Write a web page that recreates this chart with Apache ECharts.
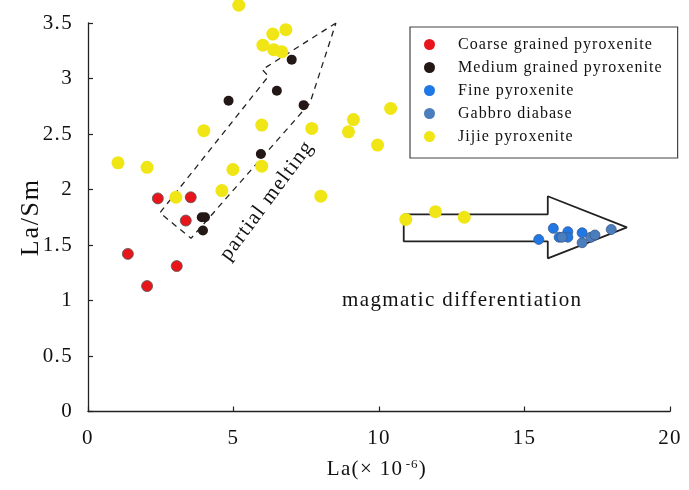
<!DOCTYPE html>
<html>
<head>
<meta charset="utf-8">
<script src="https://cdn.jsdelivr.net/npm/echarts@6/dist/echarts.min.js"></script>
<style>
html,body{margin:0;padding:0;background:#fff}
#c{width:689px;height:490px}
</style>
</head>
<body>
<div id="c"></div>
<script>
// ---- data ----
const coarse = [[2.40,1.92],[3.53,1.93],[3.36,1.72],[1.37,1.42],[3.05,1.31],[2.03,1.13]];
const medium = [[7.00,3.17],[6.49,2.89],[4.83,2.80],[7.41,2.76],[5.94,2.32],[3.91,1.75],[4.02,1.75],[3.95,1.63]];
const fine = [[15.99,1.65],[16.49,1.62],[16.98,1.61],[15.49,1.55],[16.19,1.57],[16.49,1.57]];
const gabbro = [[16.29,1.57],[16.98,1.52],[17.28,1.57],[17.42,1.59],[17.98,1.64]];
const jijie = [[5.18,3.66],[6.35,3.40],[6.80,3.44],[6.01,3.30],[6.38,3.26],[6.66,3.24],[3.98,2.53],[5.97,2.58],[7.69,2.55],
  [1.03,2.24],[2.03,2.20],[4.98,2.18],[5.97,2.21],[4.60,1.99],[3.02,1.93],[8.00,1.94],
  [10.40,2.73],[9.12,2.63],[8.95,2.52],[9.95,2.40],[10.92,1.73],[11.94,1.80],[12.93,1.75]];
const seriesNames = ['Coarse grained pyroxenite','Medium grained pyroxenite','Fine pyroxenite','Gabbro diabase','Jijie pyroxenite'];
const xTicks = [0,5,10,15,20];
const yTicks = [0,0.5,1,1.5,2,2.5,3,3.5];
// annotation outlines (data coords)
const meltArrow = [[8.52,3.50],[5.99,3.08],[6.20,3.02],[2.47,1.79],[3.54,1.56],[7.63,2.78],[8.52,3.50]];
const diffArrow = [[10.85,1.776],[15.80,1.776],[15.80,1.939],[18.52,1.659],[15.80,1.380],[15.80,1.533],[10.85,1.533],[10.85,1.776]];
const meltLabel = {text:'partial melting', at:[6.15,1.9]};
const diffLabel = {text:'magmatic differentiation', at:[12.86,1.0]};

// wide tracking of the reference typeface
(function(){
  const P = CanvasRenderingContext2D.prototype;
  if (!('letterSpacing' in P)) return;
  const wrap = fn => function(t,x,y,m){
    const r = /([\d.]+)px/.exec(this.font);
    this.letterSpacing = r ? (parseFloat(r[1])*0.065).toFixed(2)+'px' : '0px';
    const out = m === undefined ? fn.call(this,t,x,y) : fn.call(this,t,x,y,m);
    this.letterSpacing = '0px';
    return out;
  };
  P.fillText = wrap(P.fillText);
  P.strokeText = wrap(P.strokeText);
})();

const serif = '"Liberation Serif","Times New Roman",serif';
const chart = echarts.init(document.getElementById('c'));
const colors = ['#e8161b','#231815','#1f78e6','#4c7dbd','#f0e616'];
function sc(name, data, color, size, border){
  return {name, type:'scatter', data, symbolSize:size, clip:false, z:5,
    itemStyle:{color, opacity:1, borderColor:border||'transparent', borderWidth:border?0.8:0}};
}
chart.setOption({
  animation:false,
  grid:{left:88, right:19, top:23, bottom:78.5},
  xAxis:{type:'value', min:xTicks[0], max:xTicks[xTicks.length-1], interval:5,
    axisLine:{show:true, lineStyle:{color:'#222', width:1.3}},
    axisTick:{show:true, inside:true, length:5, lineStyle:{color:'#222', width:1.2}},
    axisLabel:{fontFamily:serif, fontSize:21, color:'#111', margin:16},
    splitLine:{show:false},
    name:'{m|La(× 10}{sup|-6}{m|)}', nameLocation:'middle', nameGap:47,
    nameTextStyle:{fontFamily:serif, fontSize:21, color:'#111',
      rich:{m:{fontFamily:serif, fontSize:21, color:'#111'},
            sup:{fontFamily:serif, fontSize:13, color:'#111', verticalAlign:'top', padding:[0,2,9,8]}}}
  },
  yAxis:{type:'value', min:yTicks[0], max:yTicks[yTicks.length-1], interval:0.5,
    axisLine:{show:true, lineStyle:{color:'#222', width:1.3}},
    axisTick:{show:true, inside:true, length:5, lineStyle:{color:'#222', width:1.2}},
    axisLabel:{fontFamily:serif, fontSize:21, color:'#111', margin:15},
    splitLine:{show:false},
    name:'La/Sm', nameLocation:'middle', nameGap:44, nameMoveOverlap:false,
    nameTextStyle:{fontFamily:serif, fontSize:26, color:'#111'}
  },
  legend:{orient:'vertical', left:410, top:27, itemGap:6,
    padding:[9,41,13,14], borderColor:'#444', borderWidth:1.2,
    icon:'circle', itemWidth:11, itemHeight:11, itemStyle:{borderWidth:0},
    textStyle:{fontFamily:serif, fontSize:16, color:'#111', padding:[0,0,0,18], lineHeight:17},
    data:seriesNames},
  series:[
    sc(seriesNames[0], coarse, colors[0], 11, '#555'),
    sc(seriesNames[1], medium, colors[1], 10, null),
    sc(seriesNames[2], fine, colors[2], 10, '#3a5a8a'),
    sc(seriesNames[3], gabbro, colors[3], 10, '#3a5a8a'),
    sc(seriesNames[4], jijie, colors[4], 13, null),
    {type:'line', data:meltArrow, symbol:'none', silent:true, z:3,
      lineStyle:{color:'#222', width:1.3, type:[6,5]}},
    {type:'line', data:diffArrow, symbol:'none', silent:true, z:3,
      lineStyle:{color:'#222', width:1.8}}
  ]
});
const p1 = chart.convertToPixel({gridIndex:0}, meltLabel.at);
const p2 = chart.convertToPixel({gridIndex:0}, diffLabel.at);
chart.setOption({graphic:[
  {type:'text', x:p1[0], y:p1[1], rotation:53.5*Math.PI/180,
    style:{text:meltLabel.text, font:'21px '+serif, fill:'#111', align:'center', verticalAlign:'middle'}},
  {type:'text', x:p2[0], y:p2[1],
    style:{text:diffLabel.text, font:'21px '+serif, fill:'#111', align:'center', verticalAlign:'middle'}}
]});
</script>
</body>
</html>
